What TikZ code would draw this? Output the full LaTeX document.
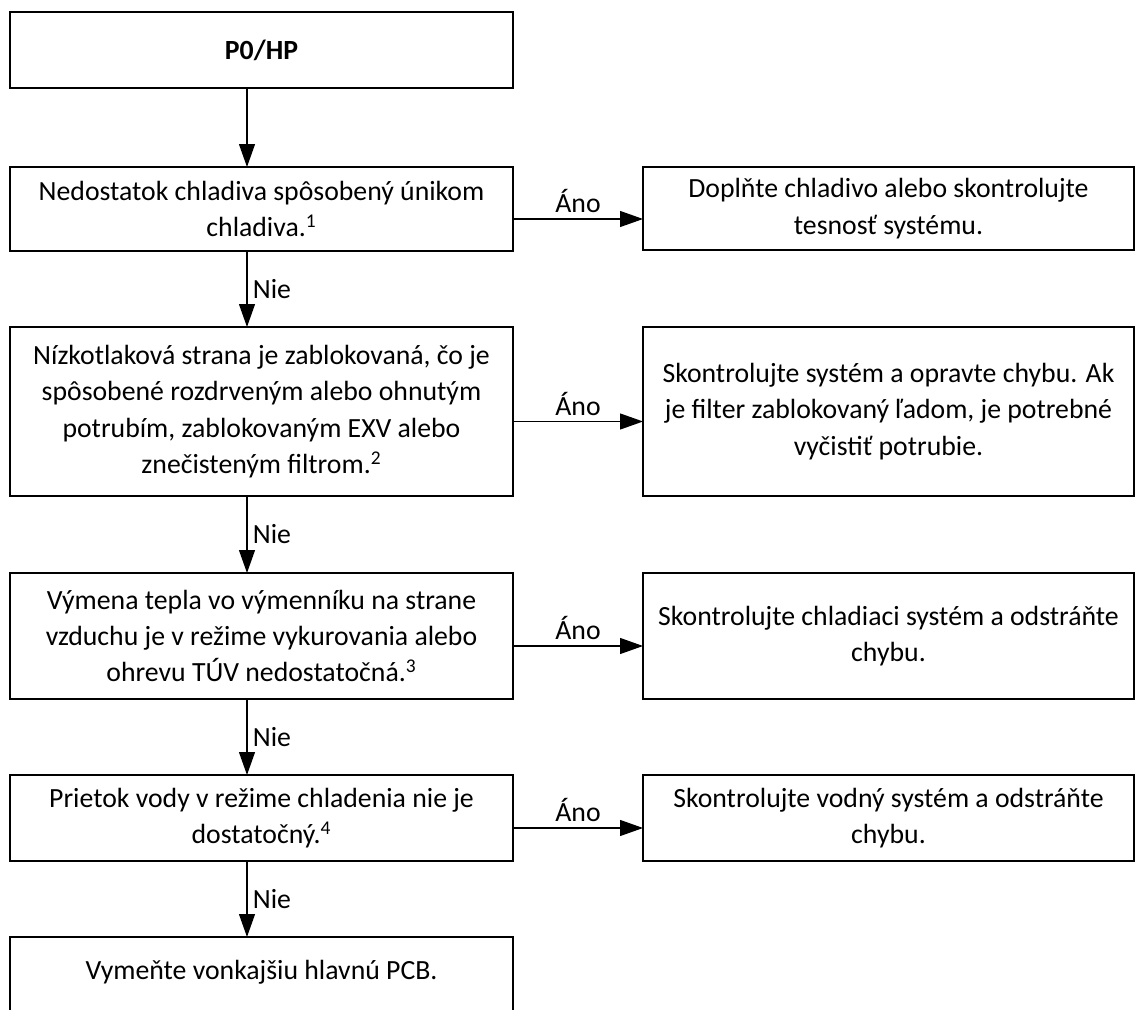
\documentclass[tikz,border=0pt]{standalone}
\usepackage{fontspec}
\setmainfont{Carlito}
\usetikzlibrary{arrows.meta}

\begin{document}
\begin{tikzpicture}[
  x=0.02cm,y=-0.02cm,
  font=\fontsize{15.8}{20.7}\selectfont,
  every node/.style={text=black,align=center,outer sep=0pt},
  qbox/.style={draw,line width=1.4pt,minimum width=10.06cm,inner sep=0pt},
  abox/.style={draw,line width=1.4pt,minimum width=9.82cm,inner sep=0pt},
  flow/.style={-{Triangle[length=13pt,width=9pt]},line width=0.8pt}
]
\path[use as bounding box] (0,0) rectangle (1137,1010);
% decision column
\node[qbox,minimum height=1.52cm] (start) at (261.5,50) {\bfseries P0/HP};
\node[qbox,minimum height=1.68cm] (q1) at (261.5,209)
  {Nedostatok chladiva spôsobený únikom\\chladiva.\textsuperscript{1}};
\node[qbox,minimum height=3.38cm] (q2) at (261.5,411.5)
  {Nízkotlaková strana je zablokovaná, čo je\\spôsobené rozdrveným alebo ohnutým\\potrubím, zablokovaným EXV alebo\\znečisteným filtrom.\textsuperscript{2}};
\node[qbox,minimum height=2.52cm] (q3) at (261.5,636)
  {Výmena tepla vo výmenníku na strane\\vzduchu je v režime vykurovania alebo\\ohrevu TÚV nedostatočná.\textsuperscript{3}};
\node[qbox,minimum height=1.72cm] (q4) at (261.5,818)
  {Prietok vody v režime chladenia nie je\\dostatočný.\textsuperscript{4}};
\node[qbox,anchor=north,text height=0.86cm,text depth=1.3cm] (q5) at (261.5,937)
  {Vymeňte vonkajšiu hlavnú PCB.};
% action column
\node[abox,minimum height=1.67cm] (a1) at (888.5,208.5)
  {Doplňte chladivo alebo skontrolujte\\tesnosť systému.};
\node[abox,minimum height=3.38cm] (a2) at (888.5,411.5)
  {Skontrolujte systém a opravte chybu. Ak\\je filter zablokovaný ľadom, je potrebné\\vyčistiť potrubie.};
\node[abox,minimum height=2.52cm] (a3) at (888.5,636)
  {Skontrolujte chladiaci systém a odstráňte\\chybu.};
\node[abox,minimum height=1.72cm] (a4) at (888.5,818)
  {Skontrolujte vodný systém a odstráňte\\chybu.};
% no branches
\coordinate (spine) at (247,0);
\draw[flow] (start.south -| spine) -- (q1.north -| spine);
\draw[flow] (q1.south -| spine) -- node[right] {Nie} (q2.north -| spine);
\draw[flow] (q2.south -| spine) -- node[right] {Nie} (q3.north -| spine);
\draw[flow] (q3.south -| spine) -- node[right] {Nie} (q4.north -| spine);
\draw[flow] (q4.south -| spine) -- node[right] {Nie} (q5.north -| spine);
% yes branches
\draw[flow] ([yshift=-0.2cm]q1.east) -- node[above] {Áno} ([yshift=-0.2cm]q1.east -| a1.west);
\draw[flow] ([yshift=-0.2cm]q2.east) -- node[above] {Áno} ([yshift=-0.2cm]q2.east -| a2.west);
\draw[flow] ([yshift=-0.2cm]q3.east) -- node[above] {Áno} ([yshift=-0.2cm]q3.east -| a3.west);
\draw[flow] ([yshift=-0.2cm]q4.east) -- node[above] {Áno} ([yshift=-0.2cm]q4.east -| a4.west);
\end{tikzpicture}
\end{document}
